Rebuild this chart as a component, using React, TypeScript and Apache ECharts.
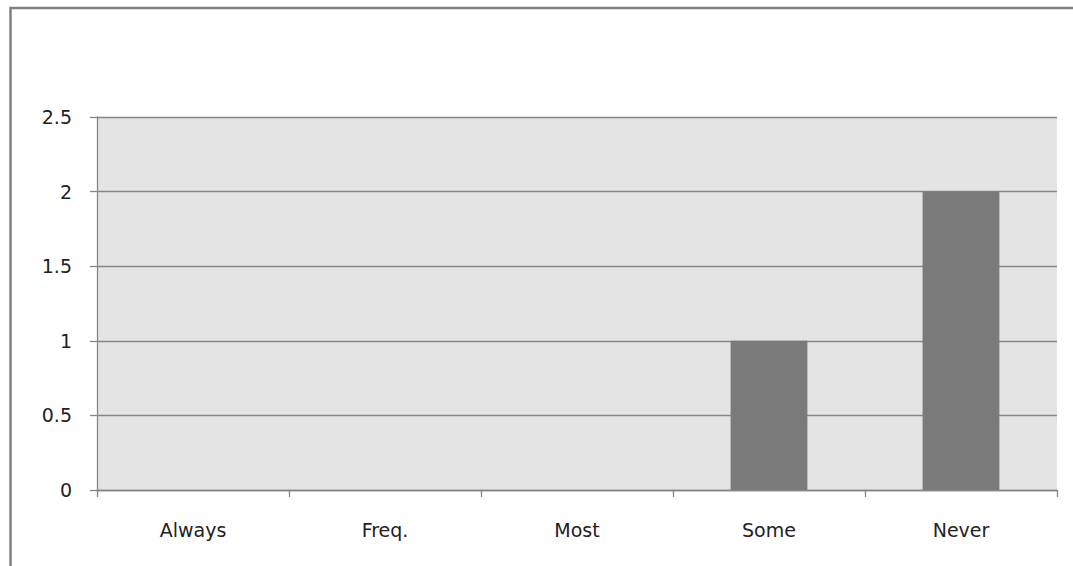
import React, { useEffect, useRef } from "react";
import * as echarts from "echarts";

const categories = ["Always", "Freq.", "Most", "Some", "Never"];
const values = [0, 0, 0, 1, 2];
const yMin = 0;
const yMax = 2.5;
const yInterval = 0.5;

export default function App() {
  const ref = useRef<HTMLDivElement>(null);
  useEffect(() => {
    if (!ref.current) return;
    const chart = echarts.init(ref.current, null, { renderer: "svg" });
    const font = "DejaVu Sans";
    chart.setOption({
      animation: false,
      backgroundColor: "#ffffff",
      grid: {
        left: 97,
        top: 117,
        right: 16,
        bottom: 76,
        show: true,
        backgroundColor: "#e4e4e4",
        borderWidth: 0,
      },
      graphic: [
        {
          type: "rect",
          shape: { x: 10.5, y: 8, width: 1200, height: 700 },
          style: { fill: "none", stroke: "#808080", lineWidth: 2.5 },
          silent: true,
        },
      ],
      xAxis: {
        type: "category",
        data: categories,
        axisLine: { show: true, lineStyle: { color: "#868686", width: 1.3 } },
        axisTick: { show: true, length: 7, alignWithLabel: false, interval: 0, lineStyle: { color: "#868686", width: 1.3 } },
        axisLabel: { color: "#222", fontFamily: font, fontSize: 19, margin: 30, interval: 0 },
        splitLine: { show: false },
      },
      yAxis: {
        type: "value",
        min: yMin,
        max: yMax,
        interval: yInterval,
        axisLine: { show: true, lineStyle: { color: "#868686", width: 1.3 } },
        axisTick: { show: true, length: 7, lineStyle: { color: "#868686", width: 1.3 } },
        axisLabel: { color: "#222", fontFamily: font, fontSize: 19, margin: 25 },
        splitLine: { show: true, lineStyle: { color: "#868686", width: 1.3 } },
      },
      series: [
        {
          type: "bar",
          data: values,
          barWidth: "40%",
          itemStyle: { color: "#7a7a7a" },
        },
      ],
    });
    return () => chart.dispose();
  }, []);
  return (
    <div
      ref={ref}
      style={{ position: "absolute", left: 0, top: 0, width: 1073, height: 566 }}
    />
  );
}
